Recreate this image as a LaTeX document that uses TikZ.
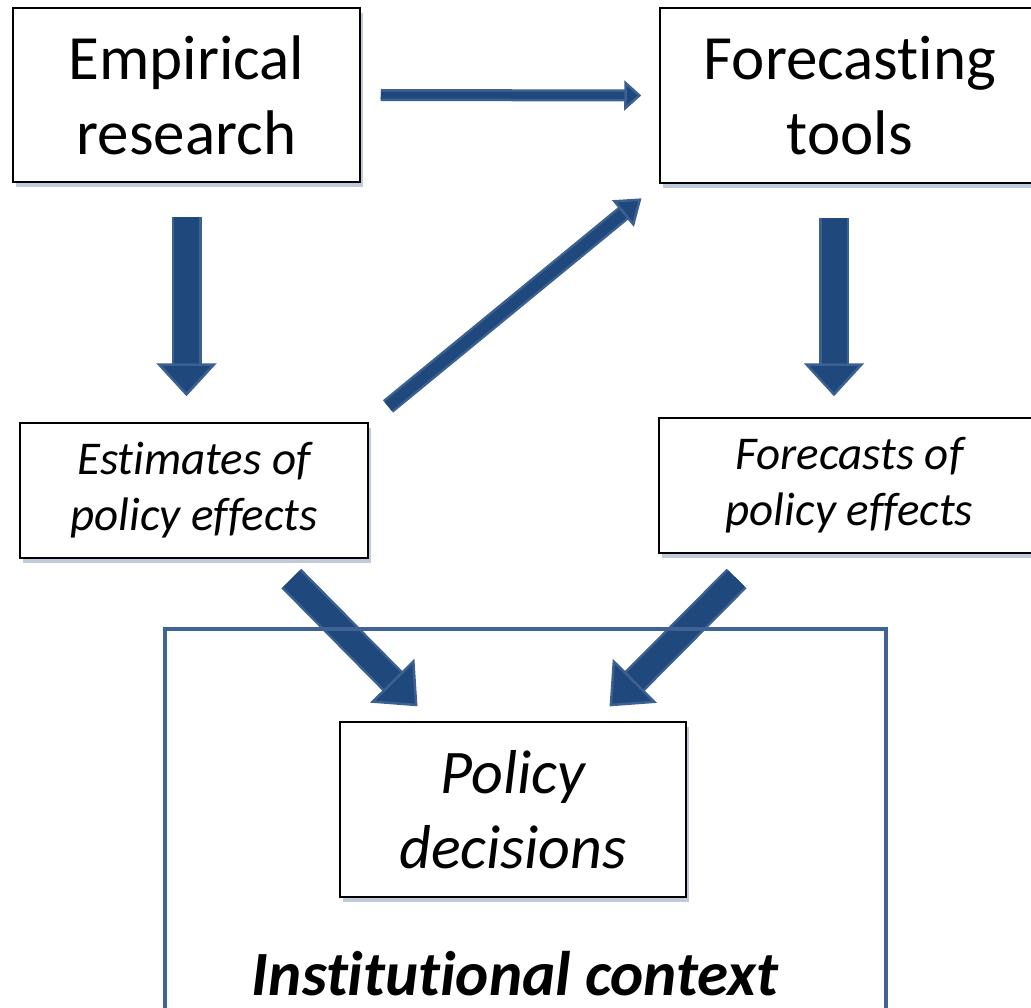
\documentclass[tikz,border=0pt]{standalone}
\usepackage{fontspec}
\setmainfont{Carlito}[Ligatures={NoCommon,NoRequired,NoContextual}, RawFeature=-ccmp]
\usetikzlibrary{arrows.meta,shadows,calc}

\definecolor{arrowfill}{RGB}{31,73,125}
\definecolor{arrowedge}{RGB}{60,96,143}
\definecolor{framecol}{RGB}{62,99,148}
\definecolor{shadowcol}{RGB}{140,158,188}

\begin{document}
\begin{tikzpicture}[x=1pt, y=-1pt,
    box/.style={draw=black, line width=1.5pt, fill=white, align=center, inner sep=0pt,
      drop shadow={shadow xshift=3pt, shadow yshift=-5pt, fill=shadowcol, opacity=0.55}},
    fat/.style n args={3}{draw=arrowedge, line width=2.5pt, double=arrowfill, double distance=#1,
      -{Triangle[width=#2, length=#3, line width=2.5pt, fill=arrowfill]}}]
  \useasboundingbox (0,0) rectangle (1031,1008);

  % the five boxes
  \node[box, minimum width=347pt, minimum height=174pt, font=\fontsize{63}{75}\selectfont]
    (emp) at (186.5,95) {Empirical\\research};
  \node[box, minimum width=380pt, minimum height=175pt, font=\fontsize{63}{75}\selectfont]
    (fct) at (850,95.5) {Forecasting\\tools};
  \node[box, minimum width=348pt, minimum height=135pt, font=\fontsize{47}{56}\selectfont\itshape]
    (est) at (194,490.5) {Estimates of\\policy effects};
  \node[box, minimum width=381pt, minimum height=135pt, font=\fontsize{47}{56}\selectfont\itshape]
    (fcs) at (849.5,485.5) {Forecasts of\\policy effects};
  \node[box, minimum width=346pt, minimum height=175pt, font=\fontsize{62}{75}\selectfont\itshape]
    (pol) at (513,809.5) {Policy\\decisions};

  % block arrows
  \draw[fat={7pt}{30pt}{17pt}, shorten <=20pt, shorten >=18pt] (emp.east) -- (fct.west);
  \draw[fat={25pt}{60pt}{33pt}, shorten <=34pt, shorten >=26pt]
    (emp.south) -- (emp.south |- est.north);
  \draw[fat={25pt}{60pt}{33pt}, shorten <=34pt, shorten >=21pt]
    ($(fct.south)+(-16,0)$) -- ($(fcs.north)+(-15.5,0)$);
  \draw[fat={11pt}{34pt}{24pt}, shorten <=25pt, shorten >=23pt] (est.north east) -- (fct.south west);
  \draw[fat={23pt}{62pt}{36pt}, shorten <=28pt, shorten >=21pt]
    ($(est.south east)+(-97,0)$) -- ($(pol.north west)+(93,0)$);
  \draw[fat={23pt}{62pt}{36pt}, shorten <=35pt, shorten >=21pt]
    ($(fcs.south west)+(103,0)$) -- ($(pol.north east)+(-92,0)$);

  % surrounding frame
  \node[draw=framecol, line width=4pt, minimum width=721pt, minimum height=420pt,
    anchor=north west, inner sep=0pt] (inst) at (163,627) {};
  \node[font=\fontsize{63}{75}\selectfont\bfseries\itshape, anchor=base, inner sep=0pt, text depth=0pt]
    (ctx) at (515,995) {Institutional context};
\end{tikzpicture}
\end{document}
